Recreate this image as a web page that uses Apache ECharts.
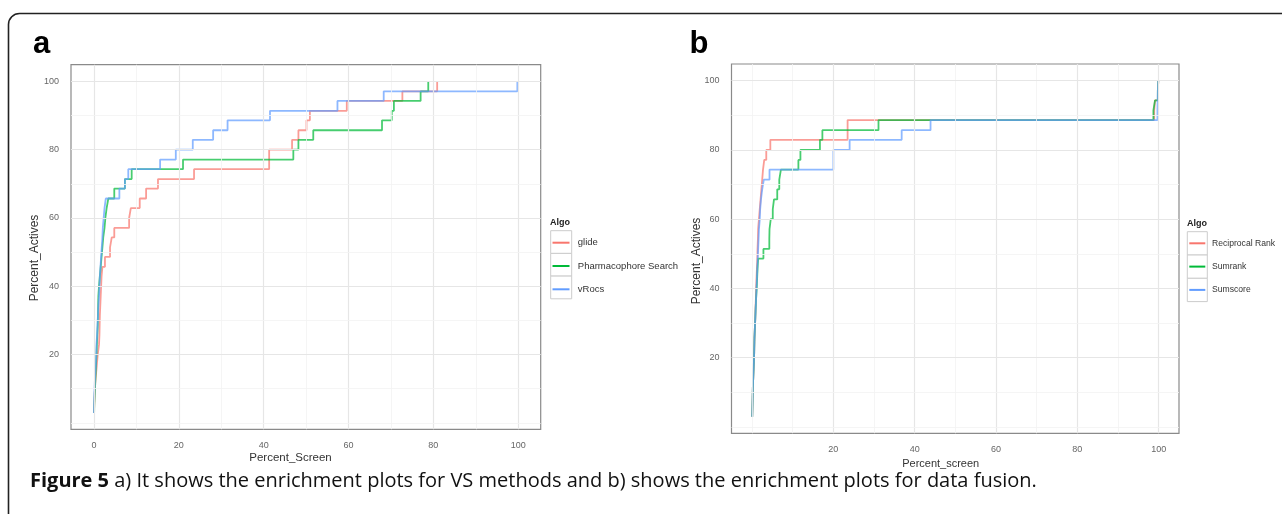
<!DOCTYPE html>
<html><head><meta charset="utf-8">
<script src="https://cdn.jsdelivr.net/npm/echarts@6/dist/echarts.min.js"></script>
<style>html,body{margin:0;padding:0;background:#fff}#c{width:1282px;height:514px}</style>
</head><body><div id="c"></div>
<script>
// ---------- data ----------
const namesA = ['glide', 'Pharmacophore Search', 'vRocs'];
const namesB = ['Reciprocal Rank', 'Sumrank', 'Sumscore'];

// panel a : [Percent_Screen, Percent_Actives]
const glide = [[0.0,2.9],[0.1,5.7],[0.2,8.6],[0.3,11.4],[0.5,14.3],[0.7,17.1],[0.9,20],[1.2,22.9],[1.3,25.7],[1.35,28.6],[1.4,31.4],[1.5,34.3],[1.6,37.1],[1.7,40],[1.8,42.9],[2.0,45.7],[2.6,48.6],[3.8,51.4],[4.2,54.3],[4.8,57.1],[8.3,60],[8.7,62.9],[10.8,65.7],[12.3,68.6],[15.1,71.4],[23.6,74.3],[41.3,80],[46.7,82.9],[48.2,85.7],[50.1,88.6],[50.9,91.4],[59.6,94.3],[72.7,97.1],[80.9,100]];
const pharmacophore = [[0.05,2.9],[0.1,5.7],[0.2,8.6],[0.3,11.4],[0.4,14.3],[0.5,17.1],[0.6,20],[0.7,22.9],[0.8,25.7],[0.9,28.6],[0.95,31.4],[1.0,34.3],[1.05,37.1],[1.2,40],[1.4,42.9],[1.6,45.7],[1.8,48.6],[2.0,51.4],[2.2,54.3],[2.5,57.1],[2.7,60],[3.0,62.9],[3.4,65.7],[4.8,68.6],[7.3,71.4],[8.9,74.3],[21.0,77.1],[47.0,80],[48.2,82.9],[51.7,85.7],[67.9,88.6],[70.2,91.4],[70.7,94.3],[77.0,97.1],[78.8,100]];
const vRocs = [[0.0,2.9],[0.05,5.7],[0.1,8.6],[0.2,11.4],[0.3,14.3],[0.45,17.1],[0.55,20],[0.6,22.9],[0.75,25.7],[0.85,28.6],[0.95,31.4],[1.05,34.3],[1.2,37.1],[1.3,40],[1.4,42.9],[1.55,45.7],[1.7,48.6],[1.85,51.4],[2.0,54.3],[2.1,57.1],[2.3,60],[2.5,62.9],[2.8,65.7],[6.0,68.6],[7.3,71.4],[8.1,74.3],[15.6,77.1],[19.3,80],[23.3,82.9],[28.1,85.7],[31.5,88.6],[41.5,91.4],[57.4,94.3],[68.3,97.1],[99.8,100]];

// panel b : [Percent_screen, Percent_Actives]
const reciprocalRank = [[0.05,2.9],[0.1,5.7],[0.15,8.6],[0.2,11.4],[0.3,14.3],[0.4,17.1],[0.5,20],[0.55,22.9],[0.6,25.7],[0.7,28.6],[0.8,31.4],[0.85,34.3],[0.95,37.1],[1.0,40],[1.1,42.9],[1.2,45.7],[1.3,48.6],[1.35,51.4],[1.45,54.3],[1.5,57.1],[1.7,60],[1.9,62.9],[2.1,65.7],[2.3,68.6],[2.5,71.4],[2.7,74.3],[3.0,77.1],[3.5,80],[4.5,82.9],[23.5,88.6],[98.9,91.4],[99.1,94.3],[99.8,97.1],[99.9,100]];
const sumrank = [[0.05,2.9],[0.1,5.7],[0.15,8.6],[0.2,11.4],[0.3,14.3],[0.4,17.1],[0.5,20],[0.55,22.9],[0.6,25.7],[0.7,28.6],[0.8,31.4],[0.9,34.3],[1.0,37.1],[1.15,40],[1.25,42.9],[1.35,45.7],[1.5,48.6],[2.8,51.4],[4.25,54.3],[4.3,57.1],[4.6,60],[5.1,62.9],[5.4,65.7],[6.2,68.6],[6.7,71.4],[7.1,74.3],[11.4,77.1],[11.9,80],[16.7,82.9],[17.3,85.7],[31.1,88.6],[98.7,91.4],[99.1,94.3],[99.8,97.1],[99.9,100]];
const sumscore = [[0.05,2.9],[0.1,5.7],[0.15,8.6],[0.2,11.4],[0.3,14.3],[0.4,17.1],[0.5,20],[0.55,22.9],[0.6,25.7],[0.7,28.6],[0.8,31.4],[0.9,34.3],[1.0,37.1],[1.1,40],[1.2,42.9],[1.3,45.7],[1.4,48.6],[1.5,51.4],[1.6,54.3],[1.7,57.1],[1.9,60],[2.0,62.9],[2.2,65.7],[2.5,68.6],[2.9,71.4],[4.3,74.3],[20.0,80],[24.0,82.9],[36.8,85.7],[43.9,88.6],[99.7,91.4],[99.75,94.3],[99.8,97.1],[99.9,100]];

// tick labels and grid breaks
const xTicksA = [0, 20, 40, 60, 80, 100];
const xTicksB = [20, 40, 60, 80, 100];
const yTicks = [20, 40, 60, 80, 100];
const minorXA = [10, 30, 50, 70, 90];
const minorXB = [0, 10, 30, 50, 70, 90];
const minorY = [0, 10, 30, 50, 70, 90];

const caption = ' a) It shows the enrichment plots for VS methods and b) shows the enrichment plots for data fusion.';
// ---------------------------------------------------

const colors = ['#F8766D', '#00BA38', '#619CFF'];
const sansR = '"Liberation Sans", Arial, sans-serif';
const chart = echarts.init(document.getElementById('c'), null, {renderer: 'canvas'});

function gridLines(major, minor, axisKey) {
  const d = [];
  minor.forEach(v => d.push({[axisKey]: v, lineStyle: {color: '#f2f2f2', width: 0.8, type: 'solid'}}));
  major.forEach(v => d.push({[axisKey]: v, lineStyle: {color: '#e6e6e6', width: 1.2, type: 'solid'}}));
  return d;
}
function gridSeries(idx, xMajor, xMinor) {
  return {
    type: 'line', xAxisIndex: idx, yAxisIndex: idx, data: [], z: 1, silent: true,
    markLine: {silent: true, symbol: 'none', animation: false, label: {show: false},
      emphasis: {disabled: true},
      data: gridLines(xMajor, xMinor, 'xAxis').concat(gridLines(yTicks, minorY, 'yAxis'))}
  };
}
function stepSeries(name, data, idx, color) {
  return {name, type: 'line', step: 'end', xAxisIndex: idx, yAxisIndex: idx, data,
    showSymbol: false, symbol: 'none', z: 3, color,
    lineStyle: {color, width: 1.8, opacity: 0.72}, emphasis: {disabled: true}, animation: false};
}
function xAxis(idx, min, max, ticks) {
  return {type: 'value', gridIndex: idx, min, max, axisLine: {show: false}, splitLine: {show: false},
    axisTick: {show: true, customValues: ticks, length: 5, lineStyle: {color: '#555', width: 1}},
    axisLabel: {customValues: ticks, margin: 12, fontSize: 9, color: '#666', fontFamily: sansR}};
}
function yAxis(idx, min, max) {
  return {type: 'value', gridIndex: idx, min, max, axisLine: {show: false}, splitLine: {show: false},
    axisTick: {show: true, customValues: yTicks, length: 5, lineStyle: {color: '#555', width: 1}},
    axisLabel: {customValues: yTicks, margin: 12, fontSize: 9, color: '#666', fontFamily: sansR}};
}
function legend(names, left, top, iconW, fs, padL) {
  return {data: names.map(n => ({name: n, icon: 'rect'})), orient: 'vertical', left, top, padding: 0,
    itemWidth: iconW, itemHeight: 2, itemGap: 11.3, selectedMode: false,
    textStyle: {fontSize: fs, lineHeight: 12, color: '#333', fontFamily: sansR, padding: [0, 0, 0, padL]}};
}
function keyBoxes(x, y0, w, h) {
  return [0, 1, 2].map(i => ({type: 'rect', silent: true, z: 0,
    shape: {x: x, y: y0 + i * h, width: w, height: h},
    style: {fill: '#fff', stroke: '#cccccc', lineWidth: 1}}));
}
function txt(text, x, y, font, opts) {
  return Object.assign({type: 'text', x, y, silent: true,
    style: Object.assign({text, font, fill: '#222', align: 'center', verticalAlign: 'middle'}, (opts && opts.style) || {})},
    opts && opts.rotation ? {rotation: opts.rotation} : {});
}

const option = {
  backgroundColor: '#fff',
  animation: false,
  grid: [
    {left: 71, top: 64.7, width: 469.7, height: 364.6, show: true, borderColor: '#8a8a8a', borderWidth: 1.2, backgroundColor: '#fff'},
    {left: 731.5, top: 64, width: 447.5, height: 369.3, show: true, borderColor: '#8a8a8a', borderWidth: 1.2, backgroundColor: '#fff'}
  ],
  xAxis: [xAxis(0, -5.4, 105.3, xTicksA), xAxis(1, -5.05, 105, xTicksB)],
  yAxis: [yAxis(0, -1.9, 104.9), yAxis(1, -1.85, 104.8)],
  legend: [legend(namesA, 552.5, 236.7, 17, 9.5, 3.3), legend(namesB, 1189.3, 237.3, 16, 8.6, 1.7)],
  series: [
    gridSeries(0, xTicksA, minorXA),
    gridSeries(1, xTicksB, minorXB),
    stepSeries(namesA[0], glide, 0, colors[0]),
    stepSeries(namesA[1], pharmacophore, 0, colors[1]),
    stepSeries(namesA[2], vRocs, 0, colors[2]),
    stepSeries(namesB[0], reciprocalRank, 1, colors[0]),
    stepSeries(namesB[1], sumrank, 1, colors[1]),
    stepSeries(namesB[2], sumscore, 1, colors[2])
  ],
  graphic: [
    {type: 'rect', silent: true, z: -10, shape: {x: 8.5, y: 13.5, width: 1320, height: 620, r: 11},
     style: {fill: 'none', stroke: '#222', lineWidth: 1.6}},
    ...keyBoxes(550.7, 230.7, 21, 22.7),
    ...keyBoxes(1187.3, 231.7, 20, 23.3),
    txt('a', 41.5, 44, 'bold 31px "Liberation Sans", Arial, sans-serif', {style: {fill: '#000'}}),
    txt('b', 699, 44, 'bold 31px "Liberation Sans", Arial, sans-serif', {style: {fill: '#000'}}),
    txt('Percent_Screen', 290.5, 457.5, '11.5px ' + sansR, {style: {fill: '#333'}}),
    txt('Percent_screen', 940.7, 464, '11px ' + sansR, {style: {fill: '#333'}}),
    txt('Percent_Actives', 35, 258, '12px ' + sansR, {rotation: Math.PI / 2, style: {fill: '#333'}}),
    txt('Percent_Actives', 697, 261, '12px ' + sansR, {rotation: Math.PI / 2, style: {fill: '#333'}}),
    txt('Algo', 550, 223, 'bold 9px ' + sansR, {style: {align: 'left', fill: '#222'}}),
    txt('Algo', 1187, 224, 'bold 9px ' + sansR, {style: {align: 'left', fill: '#222'}}),
    {type: 'text', x: 30, y: 481.5, silent: true,
     style: {text: '{b|Figure 5}' + caption, font: '20px "Open Sans", sans-serif', fill: '#111',
       verticalAlign: 'middle', align: 'left',
       rich: {b: {fontWeight: 'bold', fontSize: 20, fontFamily: '"Open Sans", sans-serif', fill: '#111'}}}}
  ]
};
chart.setOption(option);
</script></body></html>
